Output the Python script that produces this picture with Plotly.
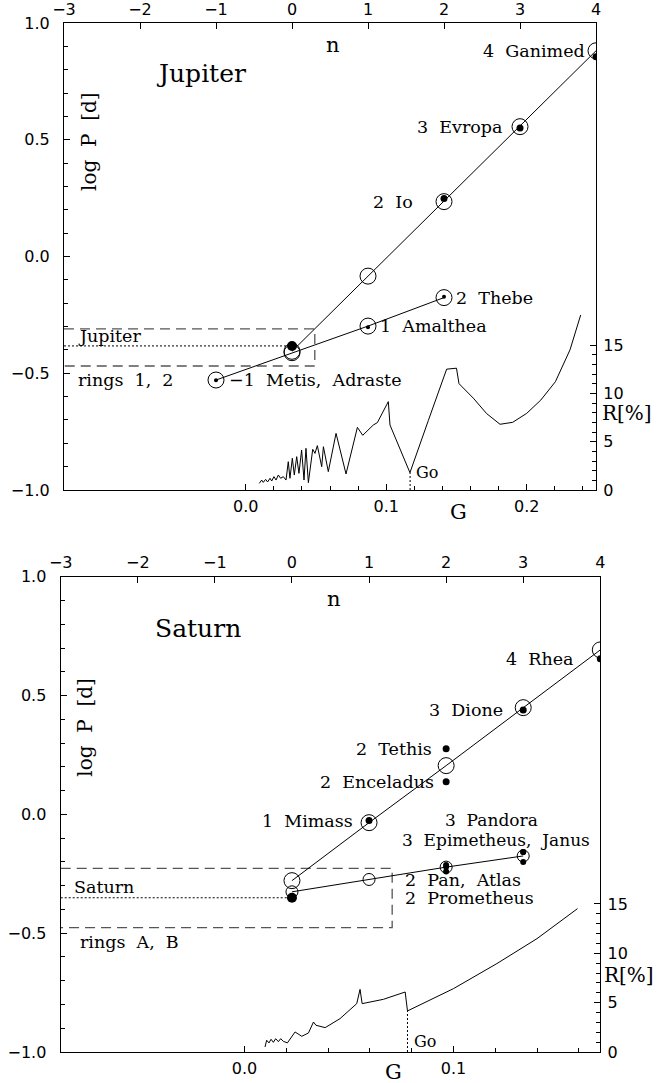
import plotly.graph_objects as go

# ---------------- data: Jupiter ----------------
jup_pred_upper_n = [0, 1, 2, 3, 4]
jup_pred_upper_logp = [-0.406, -0.084, 0.235, 0.556, 0.881]
jup_pred_lower_n = [-1, 0, 1, 2]
jup_pred_lower_logp = [-0.529, -0.412, -0.298, -0.176]
jup_outer_names = ["2\u00a0\u00a0Io", "3\u00a0\u00a0Evropa", "4\u00a0\u00a0Ganimed"]
jup_outer_n = [2, 3, 4]
jup_outer_logp = [0.248, 0.550, 0.855]
jup_inner_names = ["\u22121\u00a0\u00a0Metis,\u00a0\u00a0Adraste", "1\u00a0\u00a0Amalthea", "2\u00a0\u00a0Thebe"]
jup_inner_n = [-1, 1, 2]
jup_inner_logp = [-0.530, -0.303, -0.172]
jup_ring_n = [0]
jup_ring_logp = [-0.383]
jup_ring_band_logp = [-0.310, -0.469]
jup_ring_band_n = 0.30
jup_G = [0.0097, 0.0114, 0.0125, 0.0142, 0.0156, 0.0173, 0.0185, 0.0201, 0.0216, 0.0232,
         0.0249, 0.0268, 0.0287, 0.0303, 0.0315, 0.0332, 0.0346, 0.0363, 0.0379, 0.0398,
         0.0415, 0.0429, 0.0446, 0.0477, 0.0493, 0.0510, 0.0541, 0.0553, 0.0588, 0.0643,
         0.0714, 0.0795, 0.0833, 0.0908, 0.0937, 0.1015, 0.1027, 0.1100, 0.1169, 0.1300,
         0.1430, 0.1500, 0.1518, 0.1620, 0.1715, 0.1810, 0.1900, 0.2000, 0.2100, 0.2204,
         0.2308, 0.2384]
jup_R = [0.69, 1.03, 0.79, 1.10, 0.83, 1.21, 0.93, 1.38, 1.03, 1.55,
         1.21, 1.38, 1.03, 2.93, 1.21, 3.28, 1.55, 3.45, 1.72, 4.14,
         1.03, 4.31, 0.76, 4.21, 3.79, 4.59, 2.41, 4.48, 1.90, 5.86,
         1.66, 6.48, 5.66, 6.72, 6.97, 9.14, 6.72, 4.20, 1.79, 7.20,
         12.5, 12.6, 11.0, 9.5, 7.9, 6.8, 7.0, 7.93, 9.3, 11.2,
         14.5, 18.1]
jup_G0 = 0.117
jup_R0 = 1.8

# ---------------- data: Saturn ----------------
sat_pred_upper_n = [0, 1, 2, 3, 4]
sat_pred_upper_logp = [-0.279, -0.035, 0.205, 0.449, 0.692]
sat_pred_lower_n = [0, 1, 2, 3]
sat_pred_lower_logp = [-0.326, -0.274, -0.222, -0.175]
sat_outer_names = ["1\u00a0\u00a0Mimass", "2\u00a0\u00a0Enceladus", "2\u00a0\u00a0Tethis", "3\u00a0\u00a0Dione", "4\u00a0\u00a0Rhea"]
sat_outer_n = [1, 2, 2, 3, 4]
sat_outer_logp = [-0.026, 0.137, 0.276, 0.439, 0.655]
sat_inner_names = ["Pan", "Atlas", "Prometheus", "Pandora", "Epimetheus", "Janus"]
sat_inner_n = [2, 2, 2, 3, 3, 3]
sat_inner_logp = [-0.240, -0.220, -0.213, -0.201, -0.158, -0.158]
sat_ring_n = [0]
sat_ring_logp = [-0.351]
sat_ring_band_logp = [-0.227, -0.477]
sat_ring_band_n = 1.30
sat_G = [0.0098, 0.0106, 0.0117, 0.0127, 0.0138, 0.0149, 0.0162, 0.0173, 0.0186, 0.0205,
         0.0242, 0.0274, 0.0306, 0.0330, 0.0342, 0.0386, 0.0457, 0.0537, 0.0553, 0.0563,
         0.0665, 0.0769, 0.0780, 0.0888, 0.1000, 0.1208, 0.1400, 0.1594]
sat_R = [0.51, 1.19, 0.92, 1.29, 0.98, 1.35, 1.05, 1.35, 1.08, 0.92,
         2.03, 1.59, 1.93, 3.04, 2.71, 2.47, 3.38, 4.90, 6.35, 4.90,
         5.34, 6.08, 4.16, 5.24, 6.42, 8.96, 11.49, 14.53]
sat_G0 = 0.078
sat_R0 = 4.16

# ---------------- figure ----------------
W, H = 657, 1083
SERIF = "DejaVu Serif"
SANS = "DejaVu Sans"
BLACK = "black"

fig = go.Figure()

def panel(xa, xg, ya, yr, up_n, up_lp, lo_n, lo_lp, lo_size, outer_n, outer_lp, outer_size,
          inner_n, inner_lp, inner_size, ring_n, ring_lp, band_lp, band_n, G, R, G0, R0):
    # ring region
    fig.add_trace(go.Scatter(x=[-3, band_n, band_n, -3], y=[band_lp[0], band_lp[0], band_lp[1], band_lp[1]],
                             xaxis=xa, yaxis=ya, mode="lines",
                             line=dict(color="#555555", width=1.3, dash="10px,6px")))
    fig.add_trace(go.Scatter(x=[-3, ring_n[0]], y=[ring_lp[0], ring_lp[0]], xaxis=xa, yaxis=ya,
                             mode="lines", line=dict(color=BLACK, width=1, dash="2px,2px")))
    # predicted sequences
    fig.add_trace(go.Scatter(x=up_n, y=up_lp, xaxis=xa, yaxis=ya, mode="lines",
                             line=dict(color=BLACK, width=1)))
    fig.add_trace(go.Scatter(x=lo_n, y=lo_lp, xaxis=xa, yaxis=ya, mode="lines",
                             line=dict(color=BLACK, width=1)))
    fig.add_trace(go.Scatter(x=up_n, y=up_lp, xaxis=xa, yaxis=ya, mode="markers",
                             marker=dict(symbol="circle-open", size=16, color=BLACK, line=dict(width=1, color=BLACK))))
    fig.add_trace(go.Scatter(x=lo_n, y=lo_lp, xaxis=xa, yaxis=ya, mode="markers",
                             marker=dict(symbol="circle-open", size=lo_size, color=BLACK, line=dict(width=1, color=BLACK))))
    # observed
    fig.add_trace(go.Scatter(x=outer_n, y=outer_lp, xaxis=xa, yaxis=ya, mode="markers",
                             marker=dict(symbol="circle", size=outer_size, color=BLACK, line=dict(width=0))))
    fig.add_trace(go.Scatter(x=inner_n, y=inner_lp, xaxis=xa, yaxis=ya, mode="markers",
                             marker=dict(symbol="circle", size=inner_size, color=BLACK, line=dict(width=0))))
    fig.add_trace(go.Scatter(x=ring_n, y=ring_lp, xaxis=xa, yaxis=ya, mode="markers",
                             marker=dict(symbol="circle", size=10, color=BLACK, line=dict(width=0))))
    # resonance curve
    fig.add_trace(go.Scatter(x=G, y=R, xaxis=xg, yaxis=yr, mode="lines",
                             line=dict(color=BLACK, width=1)))
    fig.add_trace(go.Scatter(x=[G0, G0], y=[0, R0], xaxis=xg, yaxis=yr, mode="lines",
                             line=dict(color=BLACK, width=1, dash="2px,2px")))

panel("x", "x2", "y", "y2", jup_pred_upper_n, jup_pred_upper_logp, jup_pred_lower_n, jup_pred_lower_logp, 16,
      jup_outer_n, jup_outer_logp, 7, jup_inner_n, jup_inner_logp, 4, jup_ring_n, jup_ring_logp,
      jup_ring_band_logp, jup_ring_band_n, jup_G, jup_R, jup_G0, jup_R0)
panel("x3", "x4", "y3", "y4", sat_pred_upper_n, sat_pred_upper_logp, sat_pred_lower_n, sat_pred_lower_logp, 12,
      sat_outer_n, sat_outer_logp, 7, sat_inner_n, sat_inner_logp, 6, sat_ring_n, sat_ring_logp,
      sat_ring_band_logp, sat_ring_band_n, sat_G, sat_R, sat_G0, sat_R0)

tickfont = dict(family=SANS, size=16, color=BLACK)
axline = dict(showline=True, linecolor=BLACK, linewidth=1.2, showgrid=False, zeroline=False,
              tickcolor=BLACK, tickwidth=1, tickfont=tickfont, automargin=False)

def n_axis(dom, anchor):
    return dict(domain=dom, anchor=anchor, side="top", range=[-3, 4], tickmode="array",
                tickvals=list(range(-3, 5)), ticktext=[("\u2212%d" % -v) if v < 0 else str(v) for v in range(-3, 5)],
                ticks="inside", ticklen=6, ticklabelstandoff=1, **axline)

def logp_axis(dom, anchor):
    return dict(domain=dom, anchor=anchor, side="left", range=[-1, 1], tickmode="array",
                tickvals=[-1, -0.5, 0, 0.5, 1], ticktext=["\u22121.0", "\u22120.5", "0.0", "0.5", "1.0"],
                ticks="inside", ticklen=6, ticklabelstandoff=10,
                minor=dict(tickmode="array", tickvals=[round(-0.9 + 0.1 * i, 2) for i in range(19)],
                           ticks="inside", ticklen=4, tickcolor=BLACK),
                **axline)

def g_axis(overlay, anchor, rng, major, minor):
    return dict(overlaying=overlay, anchor=anchor, side="bottom", range=rng, tickmode="array",
                tickvals=major, ticktext=["%.1f" % v for v in major],
                ticks="inside", ticklen=6, ticklabelstandoff=2,
                minor=dict(tickmode="array", tickvals=minor, ticks="inside", ticklen=4, tickcolor=BLACK),
                **axline)

def r_axis(overlay, anchor, rng):
    return dict(overlaying=overlay, anchor=anchor, side="right", range=rng, tickmode="array",
                tickvals=[0, 5, 10, 15], ticktext=["0", "5", "10", "15"],
                ticks="inside", ticklen=6, ticklabelstandoff=3,
                minor=dict(tickmode="array", tickvals=[v for v in range(1, 15) if v % 5],
                           ticks="inside", ticklen=4, tickcolor=BLACK),
                **axline)

jup_xdom = [64 / W, 596 / W]
jup_ydom = [1 - 490 / H, 1 - 23 / H]
sat_xdom = [60.7 / W, 600.3 / W]
sat_ydom = [1 - 1052 / H, 1 - 576.7 / H]

fig.update_layout(
    width=W, height=H, margin=dict(l=0, r=0, t=0, b=0, pad=0, autoexpand=False),
    paper_bgcolor="white", plot_bgcolor="white", showlegend=False,
    xaxis=n_axis(jup_xdom, "y"),
    yaxis=logp_axis(jup_ydom, "x"),
    xaxis2=g_axis("x", "y", [-0.1293, 0.2493], [0, 0.1, 0.2],
                  [0.02, 0.04, 0.06, 0.08, 0.12, 0.14, 0.16, 0.18, 0.22, 0.24]),
    yaxis2=r_axis("y", "x", [0, 48.31]),
    xaxis3=n_axis(sat_xdom, "y3"),
    yaxis3=logp_axis(sat_ydom, "x3"),
    xaxis4=g_axis("x3", "y3", [-0.0880, 0.1703], [0, 0.1],
                  [0.02, 0.04, 0.06, 0.08, 0.12, 0.14, 0.16]),
    yaxis4=r_axis("y3", "x3", [0, 48.17]),
)

ann = []
def txt(text, x, y, xref, yref, size=17.5, xanchor="center", yanchor="middle", xshift=0, angle=0, family=SERIF):
    ann.append(dict(text=text, x=x, y=y, xref=xref, yref=yref, showarrow=False, xanchor=xanchor,
                    yanchor=yanchor, xshift=xshift, textangle=angle, borderpad=0,
                    font=dict(family=family, size=size, color=BLACK)))

# Jupiter labels
txt("Jupiter", -1.2, 0.782, "x", "y", size=25)
txt("n", 0.54, 0.905, "x", "y", size=21)
txt("log\u00a0\u00a0P\u00a0\u00a0[d]", -2.68, 0.492, "x", "y", size=20, angle=-90)
txt(jup_outer_names[2], 4, jup_pred_upper_logp[4], "x", "y", xanchor="right", xshift=-10)
txt(jup_outer_names[1], 3, jup_pred_upper_logp[3], "x", "y", xanchor="right", xshift=-17)
txt(jup_outer_names[0], 2, jup_pred_upper_logp[2], "x", "y", xanchor="right", xshift=-30)
txt(jup_inner_names[2], 2, jup_pred_lower_logp[3], "x", "y", xanchor="left", xshift=11)
txt(jup_inner_names[1], 1, jup_pred_lower_logp[2], "x", "y", xanchor="left", xshift=11)
txt(jup_inner_names[0], -1, jup_pred_lower_logp[0], "x", "y", xanchor="left", xshift=12)
txt("Jupiter", -2.83, -0.339, "x", "y", xanchor="left")
txt("rings\u00a0\u00a01,\u00a0\u00a02", -2.83, -0.529, "x", "y", xanchor="left")
txt("Go", jup_G0, 1.76, "x2", "y2", size=16, xanchor="left", xshift=5)
txt("G", 458.5 / W, 1 - 511.5 / H, "paper", "paper", size=21)
txt("R[%]", 626.7 / W, 1 - 413.3 / H, "paper", "paper", size=20)

# Saturn labels
txt("Saturn", -1.22, 0.784, "x3", "y3", size=25)
txt("n", 0.54, 0.905, "x3", "y3", size=21)
txt("log\u00a0\u00a0P\u00a0\u00a0[d]", -2.685, 0.369, "x3", "y3", size=20, angle=-90)
txt(sat_outer_names[4], 4, sat_outer_logp[4], "x3", "y3", xanchor="right", xshift=-25)
txt(sat_outer_names[3], 3, sat_outer_logp[3], "x3", "y3", xanchor="right", xshift=-19)
txt(sat_outer_names[2], 2, sat_outer_logp[2], "x3", "y3", xanchor="right", xshift=-13)
txt(sat_outer_names[1], 2, sat_outer_logp[1], "x3", "y3", xanchor="right", xshift=-11)
txt(sat_outer_names[0], 1, sat_outer_logp[0], "x3", "y3", xanchor="right", xshift=-15)
txt("3\u00a0\u00a0Pandora", 2.59, -0.024, "x3", "y3", size=17)
txt("3\u00a0\u00a0Epimetheus,\u00a0\u00a0Janus", 2.65, -0.107, "x3", "y3", size=17)
txt("2\u00a0\u00a0Pan,\u00a0\u00a0Atlas", 1.453, -0.276, "x3", "y3", xanchor="left")
txt("2\u00a0\u00a0Prometheus", 1.453, -0.354, "x3", "y3", xanchor="left")
txt("Saturn", -2.84, -0.307, "x3", "y3", xanchor="left")
txt("rings\u00a0\u00a0A,\u00a0\u00a0B", -2.76, -0.536, "x3", "y3", xanchor="left")
txt("Go", sat_G0, 1.11, "x4", "y4", size=16, xanchor="left", xshift=6)
txt("G", 393.3 / W, 1 - 1072 / H, "paper", "paper", size=21)
txt("R[%]", 629 / W, 1 - 975 / H, "paper", "paper", size=20)

fig.update_layout(annotations=ann)
fig.write_html("out.html", config={"displayModeBar": False},
               post_script="document.body.style.margin='0';document.body.style.padding='0';"
                           "document.documentElement.style.overflow='hidden';")
